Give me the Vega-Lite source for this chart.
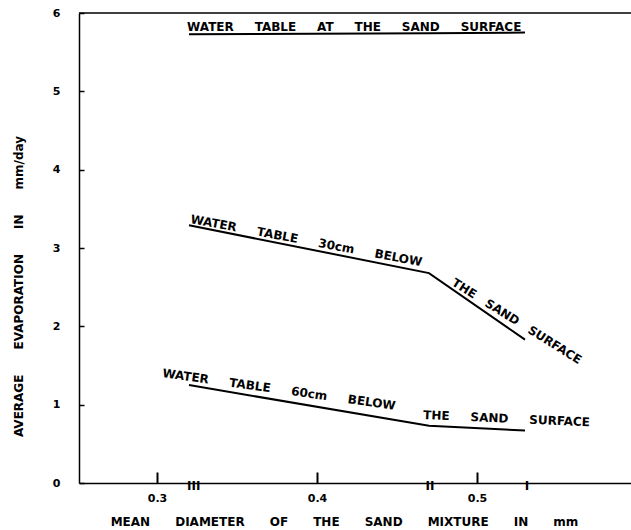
{
  "$schema": "https://vega.github.io/schema/vega-lite/v6.json",
  "width": 552,
  "height": 470,
  "autosize": {"type": "none"},
  "padding": {"left": 79, "top": 13, "right": 0, "bottom": 47},
  "background": "white",
  "config": {"view": {"stroke": null}, "font": "DejaVu Sans"},
  "datasets": {
    "curves": [
      {"series": "at surface", "d": 0.32, "evap": 5.73},
      {"series": "at surface", "d": 0.47, "evap": 5.74},
      {"series": "at surface", "d": 0.53, "evap": 5.75},
      {"series": "30cm below", "d": 0.32, "evap": 3.29},
      {"series": "30cm below", "d": 0.47, "evap": 2.68},
      {"series": "30cm below", "d": 0.53, "evap": 1.83},
      {"series": "60cm below", "d": 0.32, "evap": 1.25},
      {"series": "60cm below", "d": 0.47, "evap": 0.73},
      {"series": "60cm below", "d": 0.53, "evap": 0.67}
    ],
    "notes": [
      {"part": "top", "d": 0.3188, "evap": 5.77, "label": "WATER\u00a0\u00a0\u00a0\u00a0\u00a0TABLE\u00a0\u00a0\u00a0\u00a0\u00a0AT\u00a0\u00a0\u00a0\u00a0\u00a0THE\u00a0\u00a0\u00a0\u00a0\u00a0SAND\u00a0\u00a0\u00a0\u00a0\u00a0SURFACE"},
      {"part": "mid1", "d": 0.3206, "evap": 3.32, "label": "WATER\u00a0\u00a0\u00a0\u00a0\u00a0TABLE\u00a0\u00a0\u00a0\u00a0\u00a030cm\u00a0\u00a0\u00a0\u00a0\u00a0BELOW"},
      {"part": "mid2", "d": 0.4838, "evap": 2.53, "label": "THE\u00a0\u00a0\u00a0SAND\u00a0\u00a0\u00a0SURFACE"},
      {"part": "bot1", "d": 0.3031, "evap": 1.353, "label": "WATER\u00a0\u00a0\u00a0\u00a0\u00a0TABLE\u00a0\u00a0\u00a0\u00a0\u00a060cm\u00a0\u00a0\u00a0\u00a0\u00a0BELOW"},
      {"part": "bot2", "d": 0.4663, "evap": 0.817, "label": "THE\u00a0\u00a0\u00a0\u00a0\u00a0SAND\u00a0\u00a0\u00a0\u00a0\u00a0SURFACE"}
    ],
    "mixtures": [
      {"mixture": "III", "d": 0.323},
      {"mixture": "II", "d": 0.4706},
      {"mixture": "I", "d": 0.5312}
    ]
  },
  "layer": [
    {
      "data": {"name": "curves"},
      "mark": {"type": "line", "color": "black", "strokeWidth": 2},
      "encoding": {
        "x": {
          "field": "d", "type": "quantitative",
          "scale": {"domain": [0.25125, 0.59625], "nice": false, "zero": false},
          "axis": {
            "values": [0.3, 0.4, 0.5], "format": ".1f",
            "tickSize": -11, "tickWidth": 2, "tickColor": "black",
            "domainColor": "black", "domainWidth": 1.5,
            "labelFontSize": 11, "labelFontWeight": "bold", "labelColor": "black", "labelPadding": 20,
            "grid": false,
            "title": "MEAN\u00a0\u00a0\u00a0\u00a0\u00a0\u00a0DIAMETER\u00a0\u00a0\u00a0\u00a0\u00a0\u00a0OF\u00a0\u00a0\u00a0\u00a0\u00a0\u00a0THE\u00a0\u00a0\u00a0\u00a0\u00a0\u00a0SAND\u00a0\u00a0\u00a0\u00a0\u00a0\u00a0MIXTURE\u00a0\u00a0\u00a0\u00a0\u00a0\u00a0IN\u00a0\u00a0\u00a0\u00a0\u00a0\u00a0mm",
            "titleFontSize": 12, "titleFontWeight": "bold", "titleColor": "black",
            "titleX": 265, "titleY": 38, "titleAlign": "center", "titleBaseline": "middle"
          }
        },
        "y": {
          "field": "evap", "type": "quantitative",
          "scale": {"domain": [0, 6], "nice": false, "zero": true},
          "axis": {
            "values": [0, 1, 2, 3, 4, 5, 6], "format": "d",
            "tickSize": -5, "tickWidth": 1.5, "tickColor": "black",
            "domainColor": "black", "domainWidth": 1.5,
            "labelFontSize": 11, "labelFontWeight": "bold", "labelColor": "black", "labelPadding": 24,
            "grid": false,
            "title": "AVERAGE\u00a0\u00a0\u00a0\u00a0\u00a0\u00a0EVAPORATION\u00a0\u00a0\u00a0\u00a0\u00a0\u00a0IN\u00a0\u00a0\u00a0\u00a0\u00a0\u00a0mm/day",
            "titleFontSize": 12, "titleFontWeight": "bold", "titleColor": "black",
            "titleX": -61, "titleY": 273, "titleAlign": "center", "titleBaseline": "middle"
          }
        },
        "detail": {"field": "series"}
      }
    },
    {
      "data": {"values": [{}]},
      "mark": {"type": "rule", "color": "black", "strokeWidth": 1.5},
      "encoding": {"y": {"datum": 6}}
    },
    {
      "data": {"name": "mixtures"},
      "mark": {"type": "text", "fontSize": 12, "fontWeight": "bold", "color": "black", "baseline": "middle", "dy": 3},
      "encoding": {
        "x": {"field": "d", "type": "quantitative"},
        "y": {"datum": 0},
        "text": {"field": "mixture"}
      }
    },
    {
      "data": {"name": "notes"},
      "transform": [{"filter": "datum.part === 'top'"}],
      "mark": {"type": "text", "fontSize": 12, "fontWeight": "bold", "color": "black", "align": "left", "baseline": "alphabetic", "angle": 0},
      "encoding": {"x": {"field": "d", "type": "quantitative"}, "y": {"field": "evap", "type": "quantitative"}, "text": {"field": "label"}}
    },
    {
      "data": {"name": "notes"},
      "transform": [{"filter": "datum.part === 'mid1'"}],
      "mark": {"type": "text", "fontSize": 12, "fontWeight": "bold", "color": "black", "align": "left", "baseline": "alphabetic", "angle": 10.6},
      "encoding": {"x": {"field": "d", "type": "quantitative"}, "y": {"field": "evap", "type": "quantitative"}, "text": {"field": "label"}}
    },
    {
      "data": {"name": "notes"},
      "transform": [{"filter": "datum.part === 'mid2'"}],
      "mark": {"type": "text", "fontSize": 12, "fontWeight": "bold", "color": "black", "align": "left", "baseline": "alphabetic", "angle": 32},
      "encoding": {"x": {"field": "d", "type": "quantitative"}, "y": {"field": "evap", "type": "quantitative"}, "text": {"field": "label"}}
    },
    {
      "data": {"name": "notes"},
      "transform": [{"filter": "datum.part === 'bot1'"}],
      "mark": {"type": "text", "fontSize": 12, "fontWeight": "bold", "color": "black", "align": "left", "baseline": "alphabetic", "angle": 8},
      "encoding": {"x": {"field": "d", "type": "quantitative"}, "y": {"field": "evap", "type": "quantitative"}, "text": {"field": "label"}}
    },
    {
      "data": {"name": "notes"},
      "transform": [{"filter": "datum.part === 'bot2'"}],
      "mark": {"type": "text", "fontSize": 12, "fontWeight": "bold", "color": "black", "align": "left", "baseline": "alphabetic", "angle": 2.5},
      "encoding": {"x": {"field": "d", "type": "quantitative"}, "y": {"field": "evap", "type": "quantitative"}, "text": {"field": "label"}}
    }
  ]
}
